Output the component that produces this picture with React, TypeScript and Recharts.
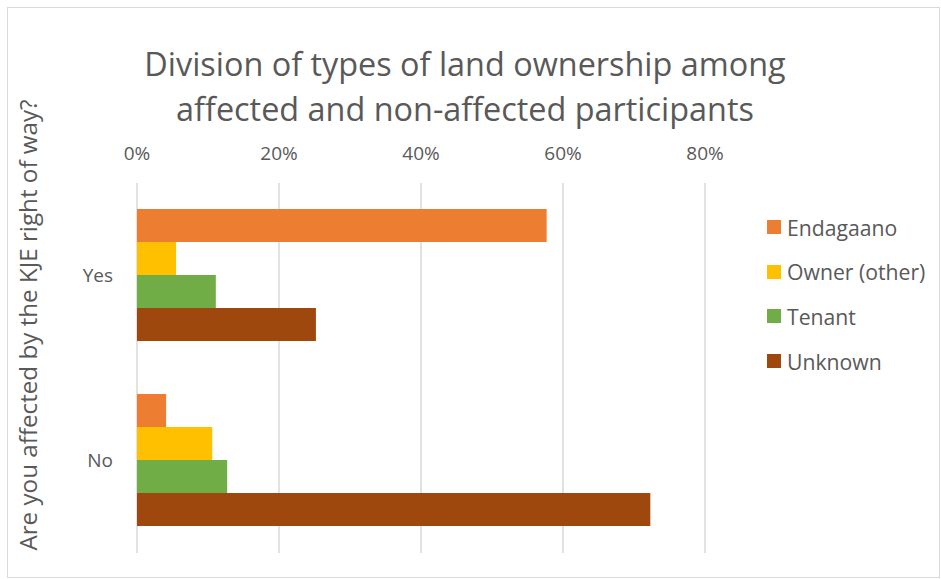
import React from "react";
import { BarChart, Bar, XAxis, YAxis, CartesianGrid } from "recharts";

const CATEGORIES = ["Yes", "No"];
const ENDAGAANO = [0.577, 0.041];
const OWNER_OTHER = [0.055, 0.106];
const TENANT = [0.111, 0.127];
const UNKNOWN = [0.252, 0.723];
const X_TICKS = [0, 0.2, 0.4, 0.6, 0.8];

const SERIES = [
  { key: "endagaano", name: "Endagaano", color: "#ED7D31" },
  { key: "owner", name: "Owner (other)", color: "#FFC000" },
  { key: "tenant", name: "Tenant", color: "#70AD47" },
  { key: "unknown", name: "Unknown", color: "#9E480E" },
];

const FONT = "'Open Sans', sans-serif";
const TEXT = "#595959";

export default function App() {
  const data = CATEGORIES.map((c, i) => ({
    cat: c,
    endagaano: ENDAGAANO[i],
    owner: OWNER_OTHER[i],
    tenant: TENANT[i],
    unknown: UNKNOWN[i],
  }));

  return (
    <div style={{ position: "absolute", left: 0, top: 0, width: 941, height: 579, background: "#fff", fontFamily: FONT }}>
      <div style={{ position: "absolute", left: 7, top: 7, width: 931, height: 569, border: "1px solid #d9d9d9" }} />
      <div style={{ position: "absolute", left: 0, width: 930, top: 41, textAlign: "center", color: TEXT, fontSize: 32.4, lineHeight: "45px" }}>
        Division of types of land ownership among
        <br />
        affected and non-affected participants
      </div>
      <div
        style={{
          position: "absolute", left: 27, top: 325, color: TEXT, fontSize: 24.2, whiteSpace: "nowrap",
          transform: "translate(-50%, -50%) rotate(-90deg)",
        }}
      >
        Are you affected by the KJE right of way?
      </div>
      <BarChart
        width={941}
        height={579}
        data={data}
        layout="vertical"
        margin={{ top: 153, right: 236, bottom: 26, left: 37 }}
        barCategoryGap="14%"
        barGap={0}
        style={{ position: "absolute", left: 0, top: 0 }}
      >
        <CartesianGrid horizontal={false} stroke="#d9d9d9" strokeWidth={1.5} />
        <XAxis
          type="number"
          orientation="top"
          domain={[0, 0.8]}
          ticks={X_TICKS}
          tickFormatter={(v: number) => `${Math.round(v * 100)}%`}
          axisLine={false}
          tickLine={false}
          tickSize={0}
          tickMargin={23}
          height={30}
          tick={{ fill: TEXT, fontSize: 19, fontFamily: FONT }}
        />
        <YAxis
          type="category"
          dataKey="cat"
          width={100}
          axisLine={false}
          tickLine={false}
          tickSize={0}
          tickMargin={24}
          tick={{ fill: TEXT, fontSize: 19, fontFamily: FONT }}
        />
        {SERIES.map((s) => (
          <Bar key={s.key} dataKey={s.key} name={s.name} fill={s.color} isAnimationActive={false} />
        ))}
      </BarChart>
      {SERIES.map((s, i) => (
        <div
          key={s.key}
          style={{ position: "absolute", left: 767, top: 227 + i * 44.7 - 15, height: 30, display: "flex", alignItems: "center", color: TEXT, fontSize: 21.2 }}
        >
          <span style={{ display: "inline-block", width: 14, height: 14, background: s.color, marginRight: 6 }} />
          {s.name}
        </div>
      ))}
    </div>
  );
}
